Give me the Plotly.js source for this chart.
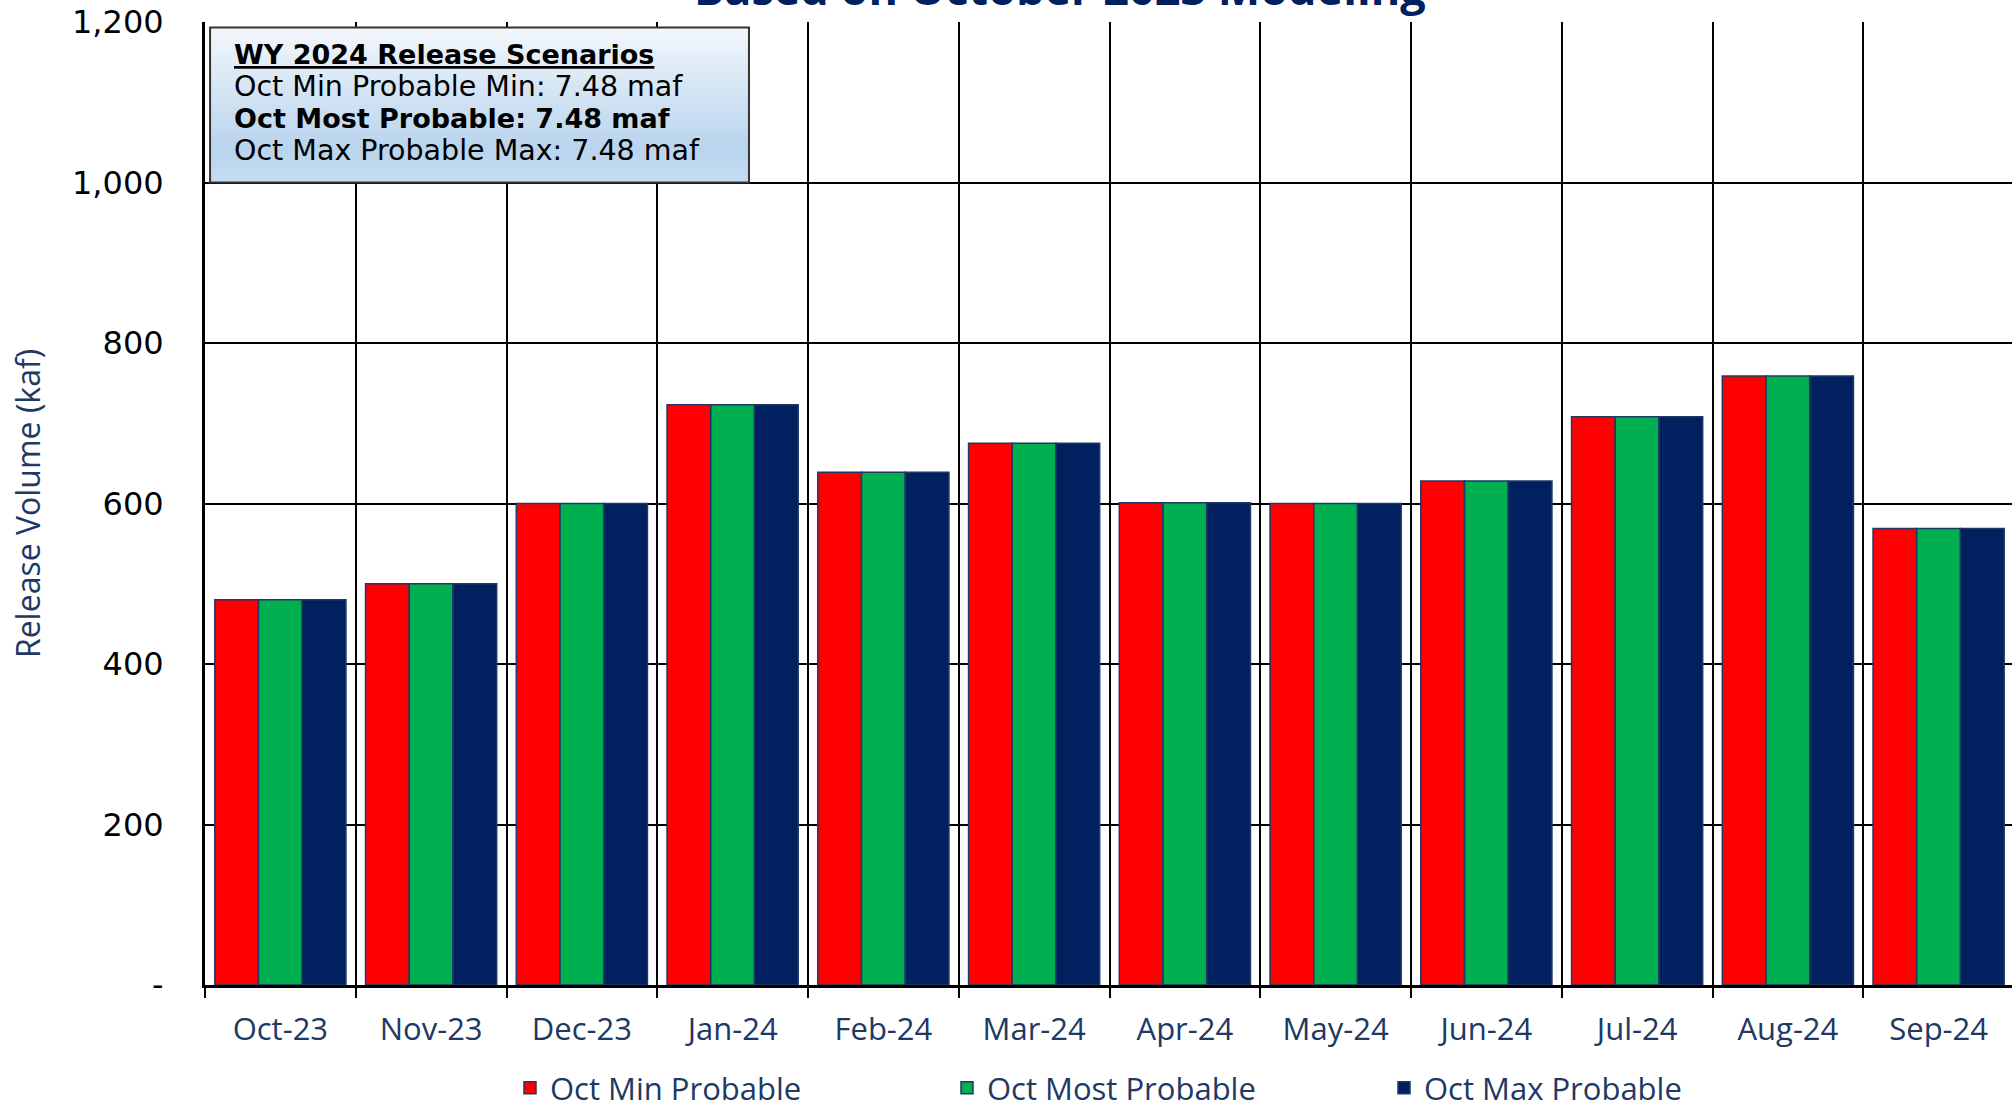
<!DOCTYPE html>
<html>
<head>
<meta charset="utf-8">
<script src="https://cdn.plot.ly/plotly-3.0.1.min.js"></script>
<style>
html,body{margin:0;padding:0;overflow:hidden;background:#ffffff;width:2012px;height:1111px}
#chart{width:2020px;height:1111px}
</style>
</head>
<body>
<div id="chart"></div>
<script>
// ---- data ----
const months = ['Oct-23','Nov-23','Dec-23','Jan-24','Feb-24','Mar-24','Apr-24','May-24','Jun-24','Jul-24','Aug-24','Sep-24'];
const minProbable  = [480, 500, 600, 723, 639, 675, 601, 600, 628, 708, 759, 569];
const mostProbable = [480, 500, 600, 723, 639, 675, 601, 600, 628, 708, 759, 569];
const maxProbable  = [480, 500, 600, 723, 639, 675, 601, 600, 628, 708, 759, 569];
const seriesNames = ['Oct Min Probable', 'Oct Most Probable', 'Oct Max Probable'];
const yTickVals = [0, 200, 400, 600, 800, 1000, 1200];
const yTickText = ['-', '200', '400', '600', '800', '1,000', '1,200'];
const titleText = 'Based on October 2023 Modeling';
const yTitle = 'Release Volume (kaf)';
const boxTitle = 'WY 2024 Release Scenarios';
const boxLines = ['Oct Min Probable Min: 7.48 maf', 'Oct Most Probable: 7.48 maf', 'Oct Max Probable Max: 7.48 maf'];

// ---- styles ----
const colors = ['#FF0000', '#00B050', '#002060'];
const navyText = '#203864';
const outline = '#1F3864';

const seriesData = [minProbable, mostProbable, maxProbable];
const traces = seriesData.map((vals, i) => ({
  type: 'bar',
  name: seriesNames[i],
  x: months,
  y: vals,
  marker: {color: colors[i], line: {color: outline, width: 1.5}},
  hoverinfo: 'skip'
}));

const gradSvg = "<svg xmlns='http://www.w3.org/2000/svg' width='100' height='100' viewBox='0 0 100 100' preserveAspectRatio='none'>" +
  "<defs><linearGradient id='g' x1='0' y1='0' x2='0' y2='1'>" +
  "<stop offset='0' stop-color='#f3f7fc'/><stop offset='0.78' stop-color='#b9d4ed'/><stop offset='1' stop-color='#c6dcf0'/>" +
  "</linearGradient></defs><rect width='100' height='100' fill='url(#g)'/></svg>";

// box text lines: [text, y-level, size]
const boxEntries = [
  ['<b><u>' + boxTitle + '</u></b>', 1160, 27],
  [boxLines[0], 1120, 28.5],
  ['<b>' + boxLines[1] + '</b>', 1080, 27],
  [boxLines[2], 1040, 28.5]
];
const boxAnnotations = boxEntries.map(e => ({
  text: e[0],
  xref: 'paper', yref: 'y',
  x: 0.0149, xanchor: 'left',
  y: e[1], yanchor: 'middle',
  align: 'left',
  showarrow: false,
  font: {family: 'DejaVu Sans', size: e[2], color: '#000000'}
}));

const layout = {
  width: 2020,
  height: 1111,
  margin: {l: 205, r: 6, t: 22, b: 126, pad: 0, autoexpand: false},
  paper_bgcolor: '#ffffff',
  plot_bgcolor: '#ffffff',
  barmode: 'group',
  bargap: 0.13,
  bargroupgap: 0,
  showlegend: true,
  xaxis: {
    type: 'category',
    tickson: 'boundaries',
    ticks: 'outside',
    ticklen: 10,
    tickwidth: 2,
    tickcolor: '#000000',
    showgrid: true,
    gridcolor: '#000000',
    gridwidth: 2,
    showline: true,
    linecolor: '#000000',
    linewidth: 3,
    tickfont: {family: 'Open Sans', size: 31, color: navyText},
    ticklabelstandoff: 15,
    automargin: false,
    fixedrange: true
  },
  yaxis: {
    range: [0, 1200],
    tickmode: 'array',
    tickvals: yTickVals,
    ticktext: yTickText,
    showgrid: true,
    gridcolor: '#000000',
    gridwidth: 2,
    showline: true,
    linecolor: '#000000',
    linewidth: 3,
    zeroline: false,
    ticks: '',
    tickfont: {family: 'DejaVu Sans', size: 32, color: '#000000'},
    ticklabelstandoff: 32,
    title: {text: yTitle, font: {family: 'Open Sans', size: 32, color: navyText}, standoff: 22},
    automargin: false,
    fixedrange: true
  },
  legend: {
    orientation: 'h',
    xref: 'paper', yref: 'paper',
    x: 0.1686, xanchor: 'left',
    y: -0.107, yanchor: 'middle',
    font: {family: 'Open Sans', size: 31, color: navyText},
    entrywidth: 392,
    entrywidthmode: 'pixels',
    bgcolor: 'rgba(0,0,0,0)',
    traceorder: 'normal'
  },
  images: [{
    source: 'data:image/svg+xml;charset=utf-8,' + encodeURIComponent(gradSvg),
    xref: 'paper', yref: 'y',
    x: 0.0028, y: 1193,
    sizex: 0.2979, sizey: 193,
    xanchor: 'left', yanchor: 'top',
    sizing: 'stretch',
    layer: 'above'
  }],
  shapes: [{
    type: 'rect', xref: 'paper', yref: 'y',
    x0: 0.0028, x1: 0.3007, y0: 1000, y1: 1193,
    line: {color: '#333333', width: 2},
    fillcolor: 'rgba(0,0,0,0)',
    layer: 'above'
  }],
  annotations: boxAnnotations.concat([
    {
      text: '<b>' + titleText + '</b>',
      xref: 'paper', yref: 'paper',
      x: 0.4726, xanchor: 'center',
      y: 1, yanchor: 'bottom',
      yshift: 2,
      showarrow: false,
      font: {family: 'Open Sans', size: 45, color: '#002060'}
    }
  ])
};

Plotly.newPlot('chart', traces, layout, {displayModeBar: false, staticPlot: true});
</script>
</body>
</html>
